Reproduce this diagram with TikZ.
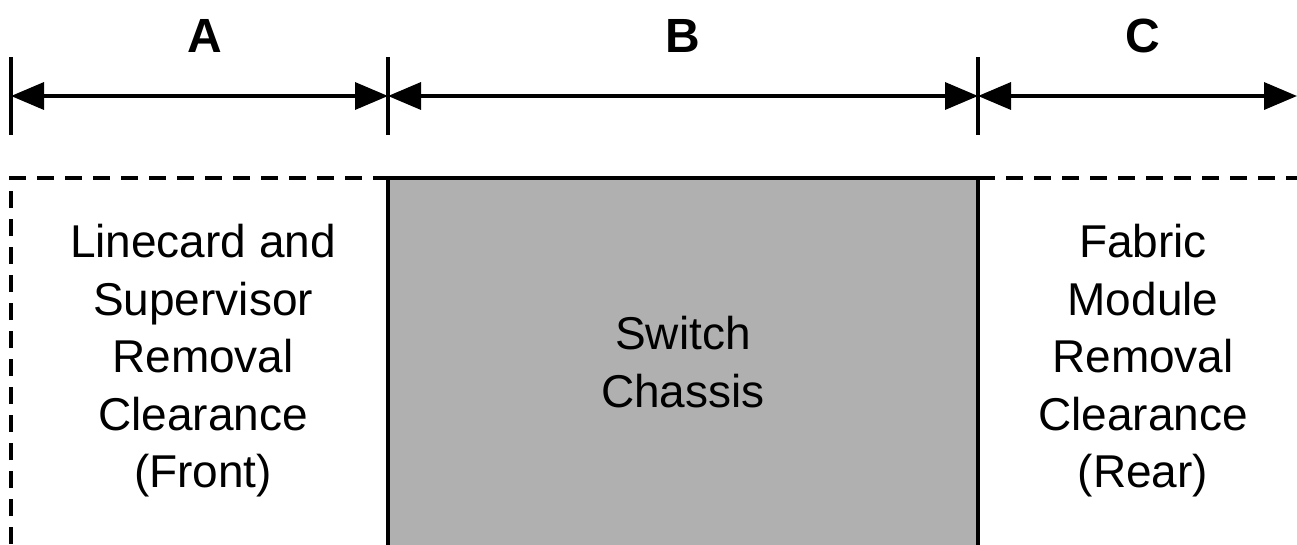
\documentclass[tikz,border=0pt]{standalone}
\usepackage{fontspec}
\setmainfont{Liberation Sans}
\usetikzlibrary{arrows.meta,positioning}

\begin{document}
\begin{tikzpicture}[x=1pt,y=1pt,
    dim/.style={line width=3.5pt, {Triangle[length=33pt,width=27pt]}-{Triangle[length=33pt,width=27pt]}},
    tick/.style={line width=3.5pt},
    zone/.style={line width=3.5pt, dash pattern=on 17pt off 11pt},
    txt/.style={align=center, font=\fontsize{46}{57.5}\selectfont},
    lbl/.style={font=\fontsize{48}{48}\selectfont\bfseries}]
        \useasboundingbox (0,0) rectangle (1297,-544);
        \coordinate (tA) at (11,-96);
        \coordinate (tB) at (388,-96);
        \coordinate (tC) at (978,-96);
        \coordinate (tD) at (1297,-96);
        \foreach \t in {tA,tB,tC}
            \draw[tick] ([yshift=39pt]\t) -- ([yshift=-39pt]\t);
        \draw[dim] (tA) -- (tB);
        \draw[dim] (tB) -- (tC);
        \draw[dim] (tC) -- (tD);
        \node[lbl] (lblA) at (205,-36) {A};
        \node[lbl] (lblB) at (683,-36) {B};
        \node[lbl] (lblC) at (1143,-36) {C};
        \draw[line width=3.5pt, fill={rgb,255:red,176;green,176;blue,176}]
            (388,-550) -- (388,-178) -- (978,-178) -- (978,-550);
        \draw[zone] (11,-544) -- (11,-178) -- (388,-178);
        \draw[zone] (978,-178) -- (1297,-178);
        \node[txt] (clrfront) at (203,-361) {Linecard and\\Supervisor\\Removal\\Clearance\\(Front)};
        \node[txt] (chassis) at (683,-362) {Switch\\Chassis};
        \node[txt] (clrrear) at (1143,-361) {Fabric\\Module\\Removal\\Clearance\\(Rear)};
\end{tikzpicture}
\end{document}
